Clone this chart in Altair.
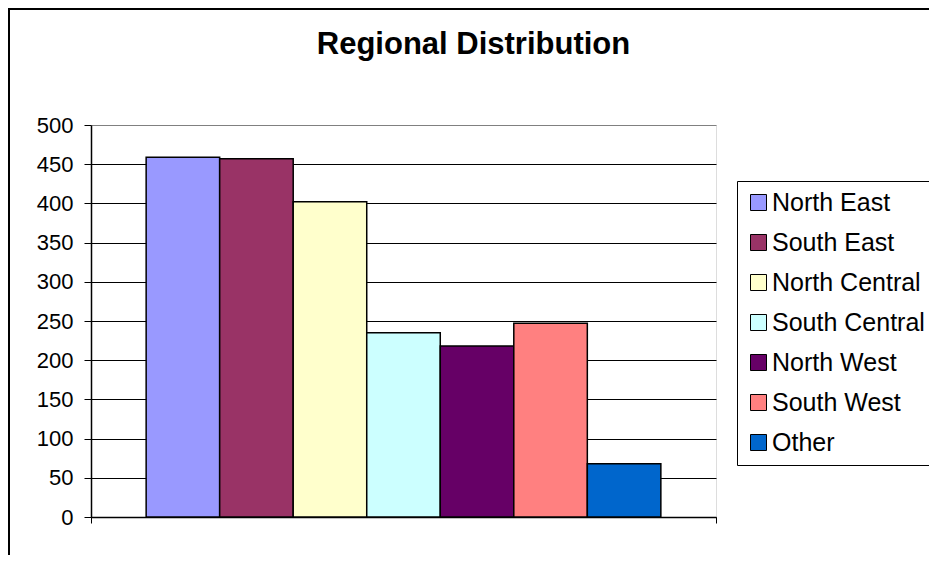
import altair as alt
import pandas as pd

regions = ["North East", "South East", "North Central", "South Central",
           "North West", "South West", "Other"]
values = [459, 457, 402, 235, 218, 247, 68]
colors = ["#9999FF", "#993366", "#FFFFCC", "#CCFFFF", "#660066", "#FF8080", "#0066CC"]
y_ticks = [0, 50, 100, 150, 200, 250, 300, 350, 400, 450, 500]

df = pd.DataFrame({"group": ["Regions"] * len(regions), "region": regions, "value": values})

FONT = "Liberation Sans"
W, H = 625, 392

border = alt.Chart(pd.DataFrame({"a": [0]})).mark_rect(
    filled=False, stroke="black", strokeWidth=2
).encode(
    x=alt.value(-82), x2=alt.value(W + 400),
    y=alt.value(-116), y2=alt.value(H + 200),
)

bars = alt.Chart(df).mark_bar(stroke="black", strokeWidth=1.5).encode(
    x=alt.X("group:N", title=None,
            scale=alt.Scale(paddingInner=0, paddingOuter=0),
            axis=alt.Axis(labels=False, tickBand="extent", tickSize=6,
                          tickColor="black", domainColor="black", domainWidth=1.5)),
    xOffset=alt.XOffset("region:N", sort=regions,
                        scale=alt.Scale(paddingInner=0, paddingOuter=0.75)),
    y=alt.Y("value:Q", title=None,
            scale=alt.Scale(domain=[0, 500], nice=False),
            axis=alt.Axis(values=y_ticks, tickSize=7, tickColor="black",
                          domainColor="black", domainWidth=1.5,
                          labelFont=FONT, labelFontSize=22, labelColor="black",
                          labelPadding=11, grid=True,
                          gridColor=alt.condition("datum.value == 500",
                                                  alt.value("#808080"), alt.value("black")),
                          gridWidth=1)),
    color=alt.Color("region:N", sort=regions,
                    scale=alt.Scale(domain=regions, range=colors),
                    legend=alt.Legend(title=None, orient="none", legendX=646, legendY=56,
                                      labelFont=FONT, labelFontSize=25, labelColor="black",
                                      symbolType="square", symbolSize=256,
                                      symbolStrokeColor="black", symbolStrokeWidth=1,
                                      labelOffset=1, rowPadding=14, padding=9,
                                      strokeColor="black", fillColor="white")),
)

chart = alt.layer(border, bars).properties(
    width=W, height=H,
    title=alt.TitleParams("Regional Distribution", font=FONT, fontSize=31,
                          fontWeight="bold", color="black", anchor="middle",
                          dx=70, offset=-53),
    padding={"left": 83, "top": 117, "right": 213, "bottom": 38},
    autosize=alt.AutoSizeParams(type="none"),
).configure_view(
    fill="#C0C0C0", stroke="#808080", strokeWidth=1.5
).configure(background="white")

chart.save("out.html", embed_options={"renderer": "svg", "actions": False})
